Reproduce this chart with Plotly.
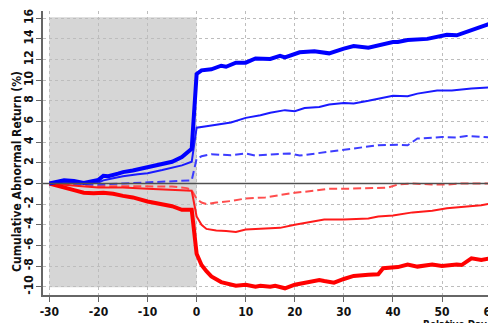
import plotly.graph_objects as go

# Blue thick
bt_days = [-30,-28,-27,-25,-23,-22,-20,-19,-18,-16,-15,-13,-11,-10,-8,-6,-5,-3,-2,-1,0,1,3,5,6,8,10,12,15,17,18,21,24,27,30,32,35,37,40,41,43,47,51,53,56,58,60]
bt_vals = [0,0.15,0.3,0.25,0.05,0.15,0.35,0.75,0.7,0.95,1.1,1.25,1.45,1.55,1.75,2.0,2.1,2.55,2.9,3.35,10.6,10.95,11.05,11.4,11.3,11.7,11.7,12.1,12.05,12.35,12.2,12.7,12.8,12.6,13.05,13.3,13.15,13.4,13.7,13.7,13.9,14.0,14.4,14.35,14.8,15.1,15.5]
# Blue thin
bn_days = [-30,-27,-25,-22,-20,-19,-17,-15,-12,-10,-7,-5,-3,-1,0,2,5,7,10,13,15,18,20,22,25,27,30,32,35,37,40,43,45,49,52,56,60]
bn_vals = [0,0.15,0.1,0.0,0.1,0.3,0.5,0.7,0.9,1.0,1.3,1.55,1.75,2.1,5.4,5.55,5.8,5.9,6.35,6.6,6.85,7.1,7.0,7.3,7.4,7.65,7.8,7.75,8.0,8.2,8.5,8.45,8.7,9.0,9.0,9.2,9.3]
# Blue dashed
bd_days = [-30,-25,-20,-15,-10,-5,-3,-1,0,1,3,7,10,12,16,19,21,24,27,30,35,37,41,43,45,50,53,55,58,60]
bd_vals = [0,-0.05,-0.1,0,0.1,0.15,0.25,0.3,2.4,2.63,2.83,2.73,2.9,2.7,2.83,2.9,2.7,2.9,3.05,3.3,3.6,3.7,3.75,3.7,4.35,4.5,4.45,4.6,4.5,4.45]
# Red thick
rt_days = [-30,-28,-25,-23,-21,-19,-17,-15,-13,-10,-8,-5,-3,-1,0,1,2,3,5,8,10,12,13,15,16,18,20,22,25,26,28,30,32,35,37,38,41,43,45,48,50,53,54,56,58,60]
rt_vals = [0,-0.3,-0.65,-0.9,-0.95,-0.9,-1.0,-1.2,-1.35,-1.75,-1.9,-2.2,-2.55,-2.55,-6.8,-7.9,-8.5,-9.0,-9.55,-9.9,-9.8,-10.0,-9.9,-10.0,-9.9,-10.15,-9.8,-9.6,-9.35,-9.45,-9.6,-9.25,-8.95,-8.85,-8.8,-8.2,-8.1,-7.85,-8.05,-7.85,-8.0,-7.85,-7.9,-7.25,-7.4,-7.25]
# Red thin
rn_days = [-30,-28,-24,-20,-15,-10,-5,-1,0,1,2,4,6,8,10,13,17,20,24,26,30,35,37,40,44,48,51,54,58,60]
rn_vals = [0,-0.1,-0.25,-0.4,-0.4,-0.5,-0.6,-0.7,-3.2,-4.0,-4.4,-4.55,-4.6,-4.7,-4.45,-4.4,-4.3,-4.0,-3.65,-3.5,-3.5,-3.4,-3.2,-3.1,-2.8,-2.65,-2.4,-2.3,-2.1,-1.95]
# Red dashed
rd_days = [-30,-25,-20,-15,-10,-5,-2,-1,0,1,2,4,7,10,14,17,20,24,27,31,35,39,41,44,48,51,54,60]
rd_vals = [0,-0.05,-0.25,-0.25,-0.25,-0.3,-0.45,-0.65,-1.5,-1.85,-2.0,-1.85,-1.7,-1.45,-1.35,-1.1,-0.9,-0.7,-0.5,-0.5,-0.45,-0.4,-0.1,0.0,-0.1,-0.1,0.0,0.0]

x_ticks = [-30,-20,-10,0,10,20,30,40,50,60]
y_ticks = [-10,-8,-6,-4,-2,0,2,4,6,8,10,12,14,16]

FONT = "Liberation Sans Narrow, DejaVu Sans Condensed, Liberation Sans, Arial, sans-serif"

fig = go.Figure()
series = [
    (rd_days, rd_vals, "#ff4d4d", 2, "8px,4px"),
    (bd_days, bd_vals, "#3d3dff", 2, "8px,4px"),
    (rn_days, rn_vals, "#ff1a1a", 2, "solid"),
    (bn_days, bn_vals, "#1a1aff", 2, "solid"),
    (rt_days, rt_vals, "#ff0000", 4, "solid"),
    (bt_days, bt_vals, "#0000ff", 4, "solid"),
]
for d, v, c, w, dash in series:
    fig.add_trace(go.Scatter(x=d, y=v, mode="lines", line=dict(color=c, width=w, dash=dash),
                             showlegend=False, hoverinfo="skip"))

fig.add_shape(type="rect", x0=-30, x1=0, y0=-10.05, y1=16.1, xref="x", yref="y",
              fillcolor="#d6d6d6", line=dict(width=0), layer="below")
fig.add_shape(type="line", x0=0, x1=1, xref="paper", y0=0, y1=0, yref="y",
              line=dict(color="#505050", width=1.5), layer="above")

tfont = dict(family=FONT, size=12, color="#111111", weight="bold")
axis_common = dict(showline=True, linecolor="#666666", linewidth=1.5, ticks="outside",
                   ticklen=5, tickcolor="#666666", showgrid=True, gridcolor="#bdbdbd",
                   griddash="dot", gridwidth=1, zeroline=False, automargin=False,
                   tickfont=tfont, ticklabeloverflow="allow")
fig.update_xaxes(range=[-31.3, 61], tickvals=x_ticks, ticktext=[str(t) for t in x_ticks], **axis_common)
fig.update_yaxes(range=[-10.8, 16.7], tickvals=y_ticks, ticktext=[str(t) for t in y_ticks],
                 tickangle=-90, ticklabelstandoff=-2, **axis_common)

fig.add_annotation(text="<b>Cumulative Abnormal Return (%)</b>", xref="paper", yref="paper",
                   x=-0.0574, y=0.437, xanchor="center", yanchor="middle", textangle=-90,
                   showarrow=False, font=dict(family=FONT, size=12, color="#111111"))
fig.add_annotation(text="<b>Relative Day</b>", xref="paper", yref="paper",
                   x=0.909, y=-0.0775, yanchor="top", xanchor="center", showarrow=False,
                   font=dict(family=FONT, size=10, color="#111111"))

# page has an 8px body margin: shrink figure and margins so content lands at reference pixels
fig.update_layout(width=488, height=315, margin=dict(l=35, r=0, t=3, b=28),
                  plot_bgcolor="white", paper_bgcolor="white",
                  font=dict(family=FONT, color="#111111"))

fig.write_html("out.html")
